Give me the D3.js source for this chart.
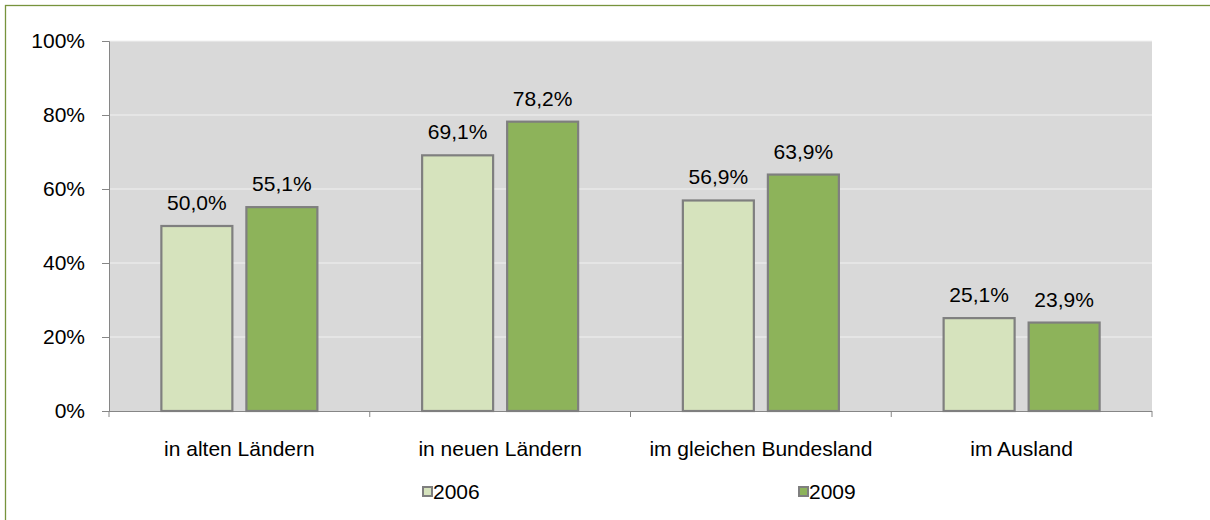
<!DOCTYPE html>
<html>
<head>
<meta charset="utf-8">
<script src="https://cdn.jsdelivr.net/npm/d3@7"></script>
<style>
  html, body { margin: 0; padding: 0; background: #fff; }
  svg { display: block; font-family: "Liberation Sans", Arial, sans-serif; }
</style>
</head>
<body>
<svg id="chart" width="1210" height="520"></svg>
<script>
// Mobility shares by destination, 2006 vs 2009
const categories = ["in alten Ländern", "in neuen Ländern", "im gleichen Bundesland", "im Ausland"];
const seriesNames = ["2006", "2009"];
const values2006 = [50.0, 69.1, 56.9, 25.1];
const values2009 = [55.1, 78.2, 63.9, 23.9];
const yTicks = [0, 20, 40, 60, 80, 100];
const colors = ["#d6e3bd", "#8db35a"];

const svg = d3.select("#chart");
const W = 1210, H = 520;
const plot = { left: 109, right: 1152, top: 41, bottom: 411 };
const FS = 21;

// outer frame
svg.append("rect")
  .attr("x", 5.5).attr("y", 5.5)
  .attr("width", W + 10).attr("height", H + 10)
  .attr("fill", "#fff").attr("stroke", "#77933c").attr("stroke-width", 1.3);

const x = d3.scaleBand().domain(categories).range([plot.left, plot.right]).padding(0);
const y = d3.scaleLinear().domain([0, 100]).range([plot.bottom, plot.top]);

// plot background
svg.append("rect")
  .attr("x", plot.left).attr("y", plot.top)
  .attr("width", plot.right - plot.left).attr("height", plot.bottom - plot.top)
  .attr("fill", "#d9d9d9");

// gridlines
svg.append("g").selectAll("line").data(yTicks.filter(d => d > 0)).join("line")
  .attr("x1", plot.left).attr("x2", plot.right)
  .attr("y1", d => y(d)).attr("y2", d => y(d))
  .attr("stroke", "#f2f2f2").attr("stroke-width", 1.2);

// y axis
const yAxis = d3.axisLeft(y).tickValues(yTicks).tickSize(7).tickPadding(17)
  .tickFormat(d => d + "%");
const gy = svg.append("g").attr("transform", `translate(${plot.left},0)`).call(yAxis);
gy.select(".domain").attr("stroke", "#868686");
gy.selectAll(".tick line").attr("stroke", "#868686");
gy.selectAll(".tick text").attr("font-size", FS).attr("fill", "#000")
  .style("font-family", "'Liberation Sans', Arial, sans-serif");

// x axis with boundary ticks
const gx = svg.append("g").attr("transform", `translate(0,${plot.bottom})`);
gx.append("line").attr("x1", plot.left).attr("x2", plot.right)
  .attr("y1", 0.5).attr("y2", 0.5).attr("stroke", "#868686");
const bounds = categories.map(c => x(c)).concat([x(categories[categories.length - 1]) + x.bandwidth()]);
gx.selectAll("line.b").data(bounds).join("line").attr("class", "b")
  .attr("x1", d => d).attr("x2", d => d).attr("y1", 0).attr("y2", 6)
  .attr("stroke", "#868686");
gx.selectAll("text").data(categories).join("text")
  .attr("x", d => x(d) + x.bandwidth() / 2)
  .attr("y", 45)
  .attr("text-anchor", "middle")
  .attr("font-size", FS).attr("fill", "#000")
  .text(d => d);

// grouped bars
const inner = d3.scaleBand().domain(seriesNames)
  .range([0, x.bandwidth()]).paddingInner(0.165).paddingOuter(0.616);
const data = categories.map((c, i) => ({ c, vals: [values2006[i], values2009[i]] }));

const groups = svg.append("g").selectAll("g").data(data).join("g")
  .attr("transform", d => `translate(${x(d.c)},0)`);

groups.selectAll("rect").data(d => d.vals.map((v, j) => ({ v, s: seriesNames[j], j }))).join("rect")
  .attr("x", d => inner(d.s))
  .attr("y", d => y(d.v))
  .attr("width", inner.bandwidth())
  .attr("height", d => y(0) - y(d.v))
  .attr("fill", d => colors[d.j])
  .attr("stroke", "#7f7f7f").attr("stroke-width", 2.2);

groups.selectAll("text").data(d => d.vals.map((v, j) => ({ v, s: seriesNames[j] }))).join("text")
  .attr("x", d => inner(d.s) + inner.bandwidth() / 2)
  .attr("y", d => y(d.v) - 16)
  .attr("text-anchor", "middle")
  .attr("font-size", FS).attr("fill", "#000")
  .text(d => d.v.toFixed(1).replace(".", ",") + "%");

// legend
const legendX = [422, 798];
const lg = svg.append("g").selectAll("g").data(seriesNames).join("g")
  .attr("transform", (d, i) => `translate(${legendX[i]},486)`);
lg.append("rect").attr("x", 1).attr("y", 1).attr("width", 9).attr("height", 9)
  .attr("fill", (d, i) => colors[i]).attr("stroke", "#7f7f7f").attr("stroke-width", 2);
lg.append("text").attr("x", 11).attr("y", 13)
  .attr("font-size", FS).attr("fill", "#000").text(d => d);
</script>
</body>
</html>
